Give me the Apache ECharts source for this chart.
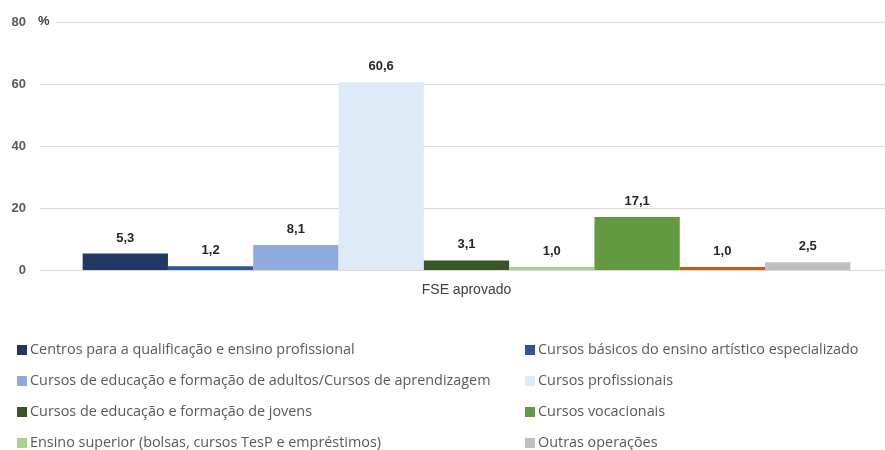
<!DOCTYPE html>
<html lang="pt">
<head>
  <meta charset="UTF-8">
  <title>FSE aprovado</title>
  <script src="https://cdn.jsdelivr.net/npm/echarts@6/dist/echarts.min.js"></script>
  <style>
    html, body { margin: 0; padding: 0; width: 885px; height: 450px; background: #fff; overflow: hidden; }
    #main { width: 893px; height: 450px; }
  </style>
</head>
<body>
  <div id="main"></div>
  <script>
    const categories = ['FSE aprovado'];
    const seriesNames = [
      'Centros para a qualificação e ensino profissional',
      'Cursos básicos do ensino artístico especializado',
      'Cursos de educação e formação de adultos/Cursos de aprendizagem',
      'Cursos profissionais',
      'Cursos de educação e formação de jovens',
      'Ensino superior (bolsas, cursos TesP e empréstimos)',
      'Cursos vocacionais',
      'Outros',
      'Outras operações'
    ];
    const seriesValues = [5.3, 1.2, 8.1, 60.6, 3.1, 1.0, 17.1, 1.0, 2.5];
    const colors = ['#203864', '#2F5597', '#8FAADC', '#DEEBF7', '#375623', '#A9D18E', '#619A3F', '#C55A11', '#BFBFBF'];
    const yTicks = [0, 20, 40, 60, 80];

    const legendLeft = [seriesNames[0], seriesNames[2], seriesNames[4], seriesNames[5]];
    const legendRight = [seriesNames[1], seriesNames[3], seriesNames[6], seriesNames[8]];

    const chart = echarts.init(document.getElementById('main'));

    const legendStyle = {
      orient: 'vertical',
      top: 342,
      height: 120,
      padding: 0,
      itemWidth: 10,
      itemHeight: 10,
      itemGap: 15,
      icon: 'rect',
      textStyle: { fontFamily: 'Open Sans', fontSize: 14.4, lineHeight: 16, color: '#595959', padding: [0, 0, 0, -2] }
    };

    chart.setOption({
      animation: false,
      grid: { left: 40, right: 0, top: 22, bottom: 180 },
      legend: [
        Object.assign({ left: 17, data: legendLeft }, legendStyle),
        Object.assign({ left: 525, data: legendRight }, legendStyle)
      ],
      xAxis: {
        type: 'category',
        data: categories,
        axisLine: { lineStyle: { color: '#D9D9D9' } },
        axisTick: { show: false },
        axisLabel: { color: '#404040', fontFamily: 'Arial', fontSize: 14, margin: 13 }
      },
      yAxis: {
        type: 'value',
        min: yTicks[0],
        max: yTicks[yTicks.length - 1],
        interval: 20,
        name: '%',
        nameLocation: 'end',
        nameGap: -6,
        nameTextStyle: { color: '#404040', fontFamily: 'Arial', fontSize: 13, fontWeight: 'bold', align: 'left', backgroundColor: '#fff', padding: [0, 6, 0, -2] },
        axisLine: { show: false },
        axisTick: { show: false },
        splitLine: { lineStyle: { color: '#D9D9D9' } },
        axisLabel: { color: '#595959', fontFamily: 'Arial', fontSize: 13, fontWeight: 'bold', margin: 14 }
      },
      series: seriesValues.map((v, i) => ({
        name: seriesNames[i],
        type: 'bar',
        data: [v],
        barGap: '0%',
        barCategoryGap: '10%',
        itemStyle: { color: colors[i] },
        label: {
          show: true,
          position: 'top',
          distance: 9,
          color: '#262626',
          fontFamily: 'Arial',
          fontSize: 13,
          fontWeight: 'bold',
          formatter: p => p.value.toFixed(1).replace('.', ',')
        }
      }))
    });
  </script>
</body>
</html>
